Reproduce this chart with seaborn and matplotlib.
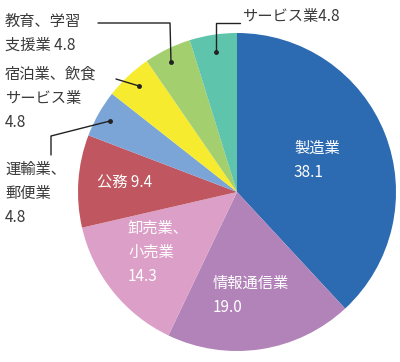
import matplotlib
matplotlib.use("Agg")
import matplotlib.pyplot as plt
import seaborn as sns

sns.set_theme(style="white")
plt.rcParams["font.family"] = ["Noto Sans CJK JP", "DejaVu Sans"]

industries = ["製造業", "情報通信業", "卸売業、小売業", "公務", "運輸業、郵便業",
              "宿泊業、飲食サービス業", "教育、学習支援業", "サービス業"]
shares = [38.1, 19.0, 14.3, 9.4, 4.8, 4.8, 4.8, 4.8]
colors = sns.color_palette(["#2c6ab2", "#b283b8", "#dc9fc7", "#c0565f",
                            "#7ba5d7", "#f6eb2f", "#a4cf6f", "#5ec4ab"])

H = 362


def py(y):
    # pixel row (from top) -> data y
    return H - y


fig = plt.figure(figsize=(4.0, 3.62), dpi=100)
ax = fig.add_axes([0, 0, 1, 1])
ax.pie(shares, colors=colors, startangle=90, counterclock=False,
       center=(237, py(192)), radius=159,
       wedgeprops={"linewidth": 0})
ax.set_xlim(0, 400)
ax.set_ylim(0, H)
ax.set_aspect("equal")
ax.axis("off")

fs = 11
dark = "#3a3a3a"

# labels inside the pie (white)
inside = [
    (294, 160, "製造業\n38.1"),
    (213, 295, "情報通信業\n19.0"),
    (128, 252, "卸売業、\n小売業\n14.3"),
    (97, 182, "公務 9.4"),
]
for x, y, s in inside:
    ax.text(x, py(y), s, color="white", fontsize=fs, ha="left", va="center",
            linespacing=1.55)

# labels outside the pie
ax.text(5, py(33), "教育、学習\n支援業 4.8", color=dark, fontsize=fs,
        ha="left", va="center", linespacing=1.5)
ax.text(5, py(98), "宿泊業、飲食\nサービス業\n4.8", color=dark, fontsize=fs,
        ha="left", va="center", linespacing=1.55)
ax.text(5, py(193), "運輸業、\n郵便業\n4.8", color=dark, fontsize=fs,
        ha="left", va="center", linespacing=1.55)
ax.text(242, py(16), "サービス業4.8", color=dark, fontsize=fs,
        ha="left", va="center")

# leader lines
leaders = [
    [(98, 23), (170, 23), (171, 62)],
    [(116, 79), (139, 86)],
    [(51, 155), (51, 136), (110, 121)],
    [(240, 23), (216, 23), (216, 52)],
]
for pts in leaders:
    xs = [p[0] for p in pts]
    ys = [py(p[1]) for p in pts]
    ax.plot(xs, ys, color="#222222", lw=1.0)
    ax.plot(xs[-1], ys[-1], "o", color="#222222", ms=2.5)

fig.savefig("out.png", dpi=100)
